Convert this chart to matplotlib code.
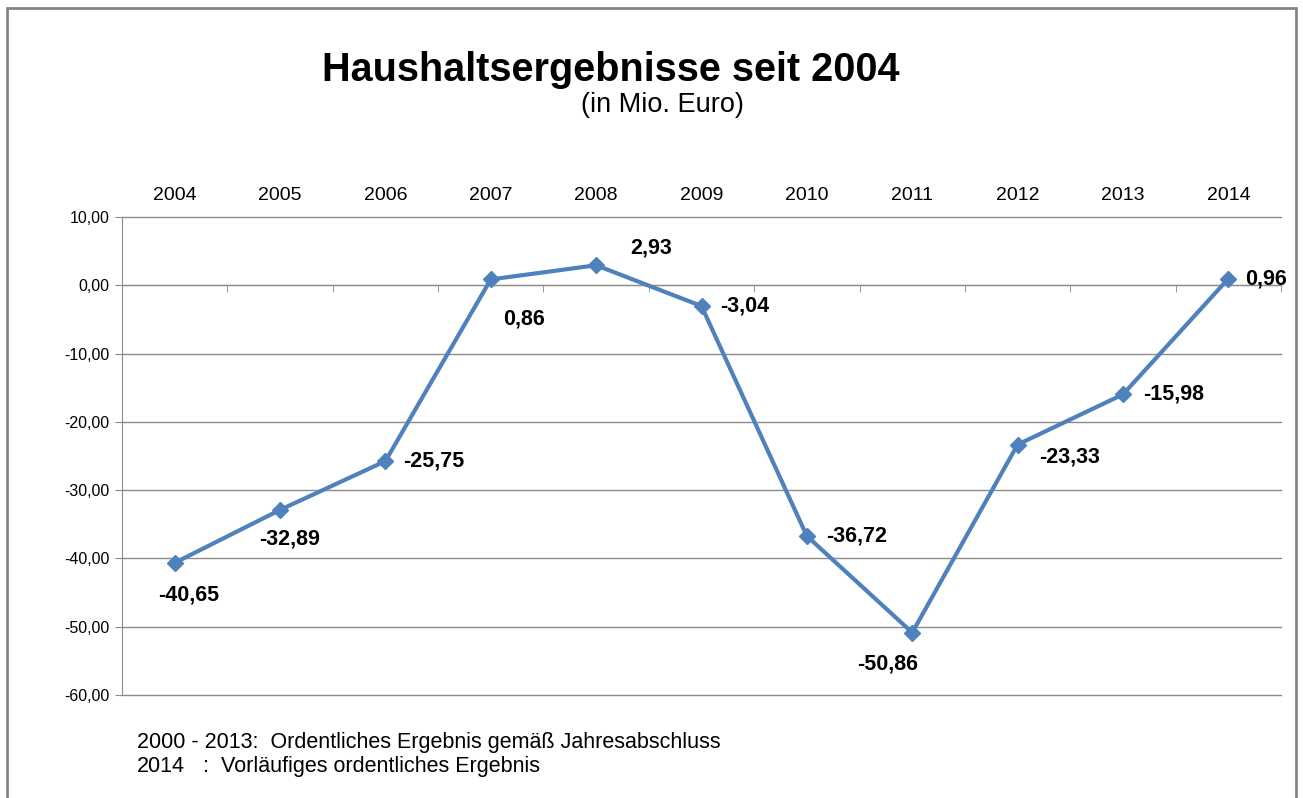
import numpy as np
import matplotlib.pyplot as plt
from matplotlib.patches import Rectangle

# Jahre und Haushaltsergebnisse (Mio. Euro)
years = ['2004', '2005', '2006', '2007', '2008', '2009', '2010', '2011', '2012', '2013', '2014']
results = [-40.65, -32.89, -25.75, 0.86, 2.93, -3.04, -36.72, -50.86, -23.33, -15.98, 0.96]
y_ticks = [-60, -50, -40, -30, -20, -10, 0, 10]

# label offsets in pixels (dx, dy) and horizontal alignment
label_pos = [(14, -32, 'center'), (10, -29, 'center'), (18, 0, 'left'), (33, -40, 'center'),
             (55, 17, 'center'), (19, 0, 'left'), (19, 0, 'left'), (-25, -31, 'center'),
             (22, -12, 'left'), (20, 0, 'left'), (17, 0, 'left')]

plt.rcParams['font.family'] = ['Liberation Sans', 'DejaVu Sans']

fig = plt.figure(figsize=(13.03, 7.98), dpi=100)
ax = fig.add_axes([122 / 1303, 1 - 695 / 798, (1281 - 122) / 1303, (695 - 217) / 798])

# Rahmen um das Diagramm
fig.patches.append(Rectangle((7 / 1303, -0.01), (1296 - 7) / 1303, 1 - 8 / 798 + 0.01,
                             transform=fig.transFigure, fill=False,
                             edgecolor='#858585', linewidth=2))

grid_color = '#8c8c8c'
for t in y_ticks:
    ax.axhline(t, color=grid_color, linewidth=1, clip_on=False, zorder=1)

x = np.arange(len(years))
line_color = '#4F81BD'
ax.plot(x, results, color=line_color, linewidth=3, marker='D', markersize=8,
        markerfacecolor=line_color, markeredgecolor=line_color, zorder=3)

for xi, v, (dx, dy, ha) in zip(x, results, label_pos):
    ax.annotate(f'{v:.2f}'.replace('.', ','), (xi, v), xytext=(dx, dy),
                textcoords='offset pixels', ha=ha, va='center',
                fontsize=15.5, fontweight='bold', color='black')

ax.set_xlim(-0.5, len(years) - 0.5)
ax.set_ylim(-60, 10)
ax.set_yticks(y_ticks)
ax.set_yticklabels([f'{t:.2f}'.replace('.', ',') for t in y_ticks])

# Kategorien oben, Teilstriche an der Nulllinie
ax.set_xticks(x)
ax.set_xticklabels(years)
ax.set_xticks(np.arange(0.5, len(years)), minor=True)
ax.tick_params(axis='x', which='major', top=True, labeltop=True, bottom=False,
               labelbottom=False, length=0, pad=9, labelsize=14)
ax.tick_params(axis='x', which='minor', bottom=True, top=False, length=5,
               direction='out', color=grid_color)
ax.tick_params(axis='y', length=5, color=grid_color, labelsize=11.5, pad=4)

ax.spines['bottom'].set_position(('data', 0))
ax.spines['bottom'].set_color(grid_color)
ax.spines['left'].set_color(grid_color)
ax.spines['top'].set_visible(False)
ax.spines['right'].set_visible(False)

fig.text(611 / 1303, 1 - 70 / 798, 'Haushaltsergebnisse seit 2004', ha='center', va='center',
         fontsize=28.5, fontweight='bold')
fig.text(662 / 1303, 1 - 105 / 798, '(in Mio. Euro)', ha='center', va='center', fontsize=19.5)

fig.text(137 / 1303, 1 - 748 / 798, '2000 - 2013:  Ordentliches Ergebnis gemäß Jahresabschluss',
         ha='left', va='baseline', fontsize=15.5)
fig.text(137 / 1303, 1 - 772 / 798, '2014', ha='left', va='baseline', fontsize=15.5)
fig.text(203 / 1303, 1 - 772 / 798, ':  Vorläufiges ordentliches Ergebnis',
         ha='left', va='baseline', fontsize=15.5)

fig.savefig('out.png', dpi=100)
